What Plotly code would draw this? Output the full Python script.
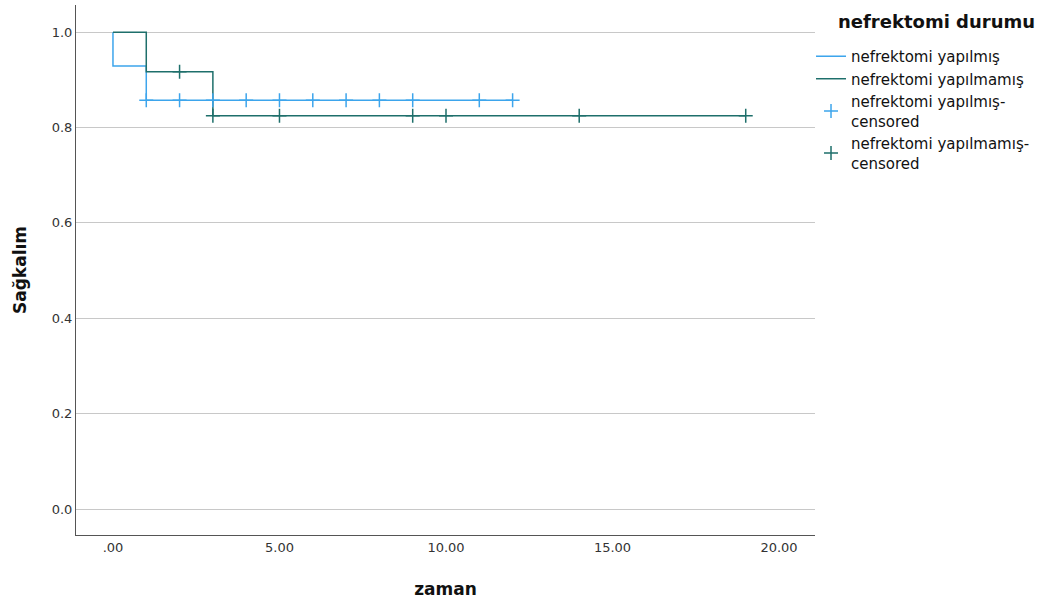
import plotly.graph_objects as go

# --- data ---
# nefrektomi yapılmış: step survival
yap_t = [0, 0, 1, 1, 12]
yap_s = [1.0, 0.929, 0.929, 0.857, 0.857]
yap_cens_t = [1, 2, 3, 4, 5, 6, 7, 8, 9, 11, 12]
yap_cens_s = [0.857] * 11

# nefrektomi yapılmamış: step survival
yapma_t = [0, 1, 1, 3, 3, 19]
yapma_s = [1.0, 1.0, 0.917, 0.917, 0.825, 0.825]
yapma_cens_t = [2, 3, 5, 9, 10, 14, 19]
yapma_cens_s = [0.917, 0.825, 0.825, 0.825, 0.825, 0.825, 0.825]

x_tickvals = [0, 5, 10, 15, 20]
x_ticktext = [".00", "5.00", "10.00", "15.00", "20.00"]
y_tickvals = [0.0, 0.2, 0.4, 0.6, 0.8, 1.0]
y_ticktext = ["0.0", "0.2", "0.4", "0.6", "0.8", "1.0"]

BLUE = "#3da5ec"
GREEN = "#1e6f6b"
FONT = "DejaVu Sans"

fig = go.Figure()
fig.add_trace(go.Scatter(x=yap_t, y=yap_s, mode="lines", name="nefrektomi yapılmış",
                         line=dict(color=BLUE, width=1.5)))
fig.add_trace(go.Scatter(x=yapma_t, y=yapma_s, mode="lines", name="nefrektomi yapılmamış",
                         line=dict(color=GREEN, width=1.5)))
fig.add_trace(go.Scatter(x=yap_cens_t, y=yap_cens_s, mode="markers",
                         name="nefrektomi yapılmış-<br>censored",
                         marker=dict(symbol="cross-thin", size=10,
                                     line=dict(color=BLUE, width=1.5))))
fig.add_trace(go.Scatter(x=yapma_cens_t, y=yapma_cens_s, mode="markers",
                         name="nefrektomi yapılmamış-<br>censored",
                         marker=dict(symbol="cross-thin", size=10,
                                     line=dict(color=GREEN, width=1.5))))

fig.add_annotation(
    text="<b>nefrektomi durumu</b>", xref="paper", yref="paper",
    x=1.0284, y=0.968, xanchor="left", yanchor="middle", showarrow=False,
    font=dict(family=FONT, size=18, color="#111111"),
)

fig.update_layout(
    width=1059, height=601,
    margin=dict(l=76, r=244, t=5, b=66),
    paper_bgcolor="white", plot_bgcolor="white",
    font=dict(family=FONT, color="#222222", size=13),
    showlegend=True,
    legend=dict(
        x=0.9946, y=0.934, xanchor="left", yanchor="top",
        font=dict(size=15, color="#111111"),
        tracegroupgap=0, itemwidth=30,
        bgcolor="rgba(0,0,0,0)",
    ),
    xaxis=dict(
        range=[-1.11, 21.08], tickvals=x_tickvals, ticktext=x_ticktext,
        showgrid=False, zeroline=False, showline=True, linecolor="#555555", linewidth=1,
        ticks="", tickfont=dict(size=13, color="#333333"),
        title=dict(text="<b>zaman</b>", font=dict(size=17, color="#111111"), standoff=29),
    ),
    yaxis=dict(
        range=[-0.0545, 1.057], tickvals=y_tickvals, ticktext=y_ticktext,
        showgrid=True, gridcolor="#c8c8c8", gridwidth=1, zeroline=False,
        showline=True, linecolor="#555555", linewidth=1,
        ticks="", tickfont=dict(size=13, color="#333333"),
        title=dict(text="<b>Sağkalım</b>", font=dict(size=17, color="#111111"), standoff=20),
    ),
)

fig.write_html("out.html")
